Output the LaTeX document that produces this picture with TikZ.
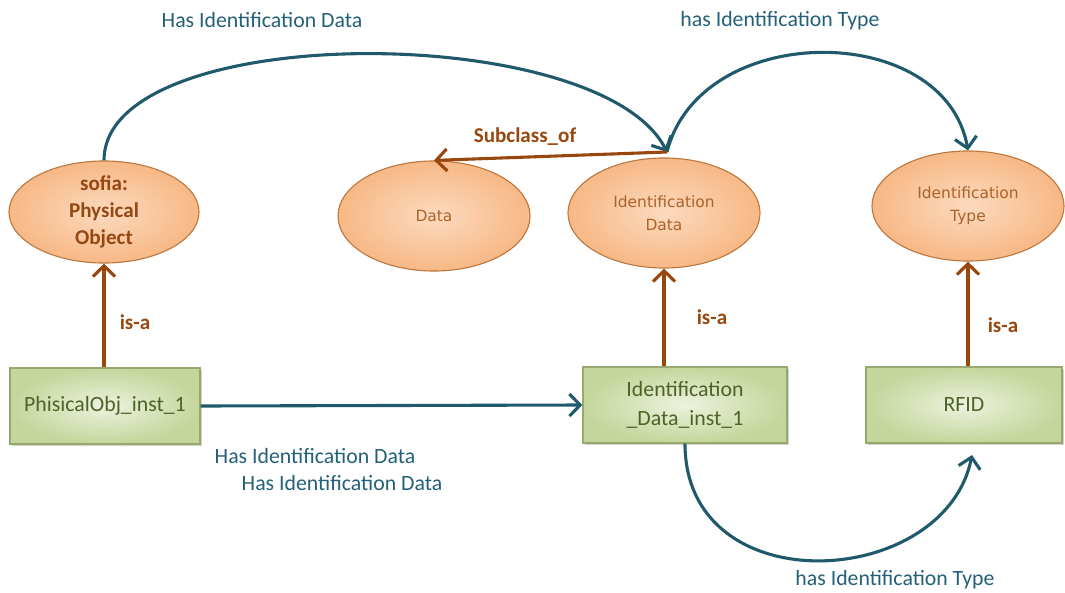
\documentclass[tikz,border=0pt]{standalone}
\usepackage{fontspec}
\setmainfont{Carlito}
\newfontfamily\ovalfont{DejaVu Sans}
\usetikzlibrary{shapes.geometric,arrows.meta,shadows}

\definecolor{arcblue}{RGB}{31,89,107}
\definecolor{labelblue}{RGB}{36,96,120}
\definecolor{isabrown}{RGB}{152,72,14}
\definecolor{ovalfill}{RGB}{247,184,134}
\definecolor{ovalcore}{RGB}{252,218,190}
\definecolor{ovalline}{RGB}{190,120,62}
\definecolor{ovaltext}{RGB}{150,72,18}
\definecolor{ovallight}{RGB}{172,98,44}
\definecolor{boxfill}{RGB}{196,214,155}
\definecolor{boxcore}{RGB}{236,242,222}
\definecolor{boxline}{RGB}{150,168,110}
\definecolor{boxtext}{RGB}{79,98,40}

\begin{document}
\begin{tikzpicture}[x=0.025cm, y=-0.025cm,
  class/.style={ellipse, draw=ovalline, thick, inner color=ovalcore, outer color=ovalfill,
    minimum width=4.8cm, minimum height=2.75cm, inner sep=0pt, align=center, text=ovaltext},
  small/.style={font=\ovalfont\fontsize{11}{16.5}\selectfont, text=ovallight},
  inst/.style={rectangle, draw=boxline, thick, inner color=boxcore, outer color=boxfill,
    minimum height=1.9cm, align=center, text=boxtext, font=\fontsize{15.5}{20.5}\selectfont,
    drop shadow={shadow xshift=1.5pt, shadow yshift=-1.5pt, opacity=0.35}},
  rel/.style={arcblue, line width=2.2pt, ->},
  isa/.style={isabrown, line width=2.2pt, ->},
  tag/.style={font=\fontsize{15.5}{19}\selectfont, text=labelblue},
  isatag/.style={font=\bfseries\fontsize{15}{19}\selectfont, text=isabrown},
  >={Straight Barb[length=2.7mm, width=5.5mm]}]
  \useasboundingbox (0,0) rectangle (1065,592);

  % classes
  \node[class, minimum width=4.75cm, minimum height=2.55cm, font=\bfseries\fontsize{15}{19}\selectfont] (sofia) at (104,212) {sofia:\\Physical\\Object};
  \node[class, small] (data) at (434,216) {Data};
  \node[class, small] (idd) at (664,213) {Identification\\Data};
  \node[class, small] (idt) at (968,206) {Identification\\Type};

  % instances
  \node[inst, minimum width=4.75cm] (poi) at (105,406) {PhisicalObj\_inst\_1};
  \node[inst, minimum width=5.1cm] (idi) at (685,405) {Identification\\\_Data\_inst\_1};
  \node[inst, minimum width=4.9cm] (rfid) at (964,405) {RFID};

  \coordinate (hub) at (667,152);
  \coordinate (rfidin) at (972,455);

  % relations
  \draw[rel] (sofia.north) .. controls (104,20) and (600,20) .. (hub);
  \draw[rel] (hub) .. controls (700,20) and (945,20) .. (idt.north);
  \draw[isa] (hub) -- (data.north);
  \draw[rel] (poi.east) -- (idi.west);
  \draw[rel] (idi.south) .. controls (685,605) and (945,590) .. (rfidin);
  \foreach \from/\to in {poi/sofia, idi/idd, rfid/idt}
    \draw[isa] (\to.south |- \from.north) -- (\to.south);

  % labels
  \node[tag] (hid1) at (262,20) {Has Identification Data};
  \node[tag] (hit1) at (780,21) {has Identification Type};
  \node[isatag] (sub) at (525,137) {Subclass\_of};
  \node[isatag] (isa1) at (135,322) {is-a};
  \node[isatag] (isa2) at (712,317) {is-a};
  \node[isatag] (isa3) at (1003,325) {is-a};
  \node[tag] (hid2) at (315,456) {Has Identification Data};
  \node[tag] (hid3) at (342,483) {Has Identification Data};
  \node[tag] (hit2) at (895,580) {has Identification Type};
\end{tikzpicture}
\end{document}
